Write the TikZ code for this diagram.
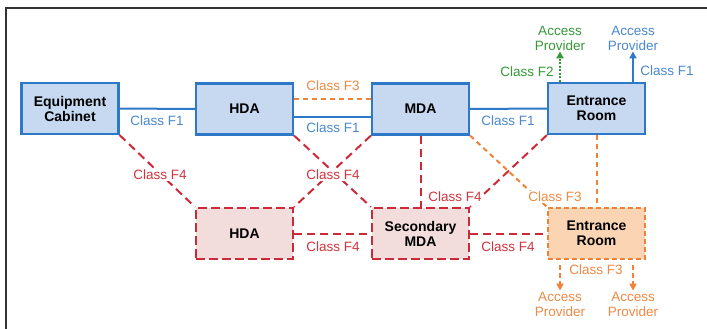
\documentclass[tikz,border=0pt]{standalone}
\usepackage{fontspec}
\setmainfont{Liberation Sans}
\usetikzlibrary{arrows.meta,calc}
\definecolor{blueb}{HTML}{2E78C8}
\definecolor{bluef}{HTML}{C6D9F1}
\definecolor{bluet}{HTML}{4A88CE}
\definecolor{redc}{HTML}{CC2A36}
\definecolor{redf}{HTML}{F2DCDC}
\definecolor{redt}{HTML}{D0343C}
\definecolor{orangec}{HTML}{EF8236}
\definecolor{orangef}{HTML}{FBD4B4}
\definecolor{oranget}{HTML}{EE8A45}
\definecolor{greenc}{HTML}{349A38}
\definecolor{framec}{HTML}{333333}
\tikzset{
  box/.style={minimum width=97pt,minimum height=51pt,inner sep=0pt,align=center,
    font=\fontsize{14}{15}\selectfont\bfseries,text=black,line width=2.2pt},
  bluebox/.style={box,draw=blueb,fill=bluef},
  redbox/.style={box,draw=redc,fill=redf,dash pattern=on 9pt off 4pt},
  orangebox/.style={box,draw=orangec,fill=orangef,dash pattern=on 5pt off 3pt},
  lbl/.style={font=\fontsize{13.5}{15}\selectfont,inner sep=1pt,fill=white,align=center},
  bluelink/.style={draw=blueb,line width=2pt},
  redlink/.style={draw=redc,line width=2pt,dash pattern=on 8pt off 5pt},
  orangelink/.style={draw=orangec,line width=2pt,dash pattern=on 5pt off 4pt},
  tip/.style={-{Triangle[width=7pt,length=7pt]}},
}
\begin{document}
\begin{tikzpicture}[x=1pt,y=-1pt]
\useasboundingbox (0,0) rectangle (707,329);
\draw[framec,line width=2pt] (6,329) -- (6,8) -- (707,8);
% boxes
\node[bluebox] (ec) at (70,108.5) {Equipment\\Cabinet};
\node[bluebox] (hda) at (244.5,109) {HDA};
\node[bluebox] (mda) at (420.5,109) {MDA};
\node[bluebox] (ert) at (596.5,108.5) {Entrance\\Room};
\node[redbox] (hdb) at (244.5,233.5) {HDA};
\node[redbox] (smda) at (420.5,233.5) {Secondary\\MDA};
\node[orangebox] (erb) at (596.5,233.5) {Entrance\\Room};
% access providers
\node[lbl,text=greenc] (apg) at (560,38) {Access\\Provider};
\node[lbl,text=bluet] (apb) at (633,38) {Access\\Provider};
\node[lbl,text=oranget] (apo1) at (560,304) {Access\\Provider};
\node[lbl,text=oranget] (apo2) at (633,304) {Access\\Provider};
% top row links
\draw[bluelink] (ec.east) -- (hda.west);
\draw[orangelink] ([yshift=10pt]hda.east) -- ([yshift=10pt]mda.west);
\draw[bluelink] ([yshift=-8pt]hda.east) -- ([yshift=-8pt]mda.west);
\draw[bluelink] (mda.east) -- (ert.west);
% F4 diagonals
\draw[redlink] (ec.south east) -- (hdb.north west);
\draw[redlink] (hda.south east) -- (smda.north west);
\draw[redlink] (mda.south west) -- (hdb.north east);
\draw[redlink] (mda.south) -- (smda.north);
\draw[orangelink] (mda.south east) -- (erb.north west);
\draw[redlink] (ert.south west) -- (smda.north east);
\draw[orangelink] (ert.south) -- (erb.north);
% bottom row links
\draw[redlink] (hdb.east) -- (smda.west);
\draw[redlink] (smda.east) -- (erb.west);
% access provider arrows
\draw[greenc,line width=2pt,dash pattern=on 2pt off 1.5pt,tip] (apg |- ert.north) -- (apg.south);
\draw[blueb,line width=2pt,tip] (apb |- ert.north) -- (apb.south);
\draw[orangec,line width=2pt,dash pattern=on 5pt off 3pt,tip] ([yshift=-5pt]apo1 |- erb.south) -- (apo1.north);
\draw[orangec,line width=2pt,dash pattern=on 5pt off 3pt,tip] ([yshift=-5pt]apo2 |- erb.south) -- (apo2.north);
% labels
\node[lbl,text=bluet] (l1) at (157,121) {Class F1};
\node[lbl,text=oranget] (l2) at (333,86) {Class F3};
\node[lbl,text=bluet] (l3) at (333,128) {Class F1};
\node[lbl,text=bluet] (l4) at (508,121) {Class F1};
\node[lbl,text=greenc] (l5) at (527,72) {Class F2};
\node[lbl,text=bluet] (l6) at (667,71) {Class F1};
\node[lbl,text=redt] (l7) at (160,175) {Class F4};
\node[lbl,text=redt] (l8) at (333,175) {Class F4};
\node[lbl,text=redt] (l9) at (455,197) {Class F4};
\node[lbl,text=oranget] (l10) at (555,197) {Class F3};
\node[lbl,text=redt] (l11) at (333,247) {Class F4};
\node[lbl,text=redt] (l12) at (508,247) {Class F4};
\node[lbl,text=oranget] (l13) at (596,270) {Class F3};
\end{tikzpicture}
\end{document}
